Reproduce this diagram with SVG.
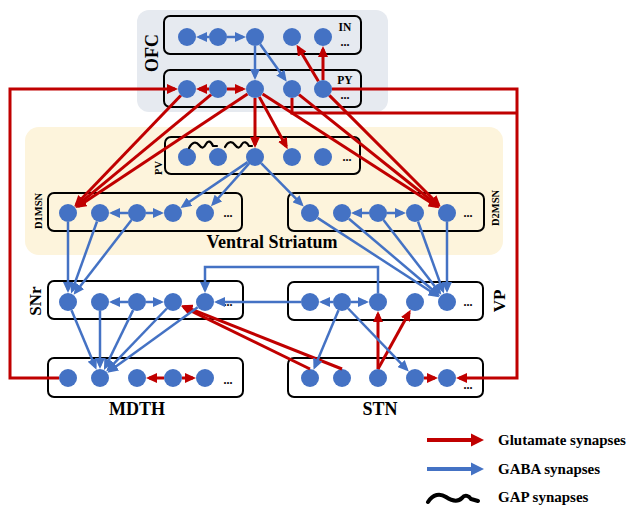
<svg xmlns="http://www.w3.org/2000/svg" width="628" height="505" viewBox="0 0 628 505">
  <style>
    text { font-family: "Liberation Serif", "Times New Roman", serif; font-weight: bold; fill: #000; }
    .box { fill: none; stroke: #000; stroke-width: 2; }
    .n { fill: #4472C4; }
    .glu { stroke: #C00000; stroke-width: 3; fill: none; marker-end: url(#ahR); }
    .glu0 { stroke: #C00000; stroke-width: 3; fill: none; }
    .gaba { stroke: #4472C4; stroke-width: 2.5; fill: none; marker-end: url(#ahB); }
    .gap { stroke: #000; stroke-width: 2.2; fill: none; stroke-linecap: round; stroke-linejoin: round; }
    .lbl { font-size: 11.5px; }
    .dots { font-size: 12px; }
    .vlab { font-size: 10.5px; }
    .big { font-size: 18px; }
    .leg { font-size: 15px; }
  </style>
  <defs>
    <marker id="ahR" markerUnits="userSpaceOnUse" markerWidth="11" markerHeight="10" refX="8" refY="5" orient="auto">
      <path d="M0,0 L11,5 L0,10 z" fill="#C00000"/>
    </marker>
    <marker id="ahB" markerUnits="userSpaceOnUse" markerWidth="11" markerHeight="10" refX="8" refY="5" orient="auto">
      <path d="M0,0 L11,5 L0,10 z" fill="#4472C4"/>
    </marker>
  </defs>

  <!-- region backgrounds -->
  <rect x="137" y="10" width="251" height="102" rx="12" fill="#E6EAF0"/>
  <rect x="25" y="127" width="478" height="128" rx="14" fill="#FDF4DC"/>
  <text class="big" transform="translate(158,53) rotate(-90)" text-anchor="middle">OFC</text>
  <text class="big" x="272" y="248" text-anchor="middle">Ventral Striatum</text>

  <!-- OFC interneurons -->
  <g id="IN">
    <rect class="box" x="164" y="16" width="197" height="38" rx="6"/>
    <circle class="n" cx="187" cy="37" r="9"/>
    <circle class="n" cx="218" cy="37" r="9"/>
    <circle class="n" cx="255" cy="37" r="9"/>
    <circle class="n" cx="292" cy="37" r="9"/>
    <circle class="n" cx="323" cy="37" r="9"/>
    <text class="lbl" x="345" y="31" text-anchor="middle">IN</text>
    <text class="dots" x="345" y="46" text-anchor="middle">...</text>
  </g>

  <!-- OFC pyramidal cells -->
  <g id="PY">
    <rect class="box" x="164" y="70" width="197" height="37" rx="6"/>
    <circle class="n" cx="187" cy="89" r="9"/>
    <circle class="n" cx="218" cy="89" r="9"/>
    <circle class="n" cx="255" cy="89" r="9"/>
    <circle class="n" cx="292" cy="89" r="9"/>
    <circle class="n" cx="323" cy="89" r="9"/>
    <text class="lbl" x="345" y="84" text-anchor="middle">PY</text>
    <text class="dots" x="345" y="99" text-anchor="middle">...</text>
  </g>

  <!-- PV interneurons -->
  <g id="PV">
    <rect class="box" x="165" y="137" width="195" height="37" rx="6"/>
    <circle class="n" cx="187" cy="157" r="9"/>
    <circle class="n" cx="218" cy="157" r="9"/>
    <circle class="n" cx="255" cy="157" r="9"/>
    <circle class="n" cx="292" cy="157" r="9"/>
    <circle class="n" cx="323" cy="157" r="9"/>
    <text class="dots" x="347" y="161" text-anchor="middle">...</text>
    <text class="vlab" transform="translate(162,168) rotate(-90)" text-anchor="middle">PV</text>
    <path class="gap" d="M189,148 C192,142 196,141 199,145 C202,149 204,148 206,144 C208,140 211,141 213,146 L217,146"/>
    <path class="gap" d="M225,147 C228,141 232,141 235,145 C238,149 240,148 242,144 C244,141 247,142 249,146 L252,146"/>
  </g>

  <!-- D1 medium spiny neurons -->
  <g id="D1MSN">
    <rect class="box" x="48" y="193" width="194" height="38" rx="6"/>
    <circle class="n" cx="68" cy="213" r="9"/>
    <circle class="n" cx="100" cy="213" r="9"/>
    <circle class="n" cx="137" cy="213" r="9"/>
    <circle class="n" cx="173" cy="213" r="9"/>
    <circle class="n" cx="205" cy="213" r="9"/>
    <text class="dots" x="228" y="217" text-anchor="middle">...</text>
    <text class="vlab" transform="translate(42,211) rotate(-90)" text-anchor="middle">D1MSN</text>
  </g>

  <!-- D2 medium spiny neurons -->
  <g id="D2MSN">
    <rect class="box" x="288" y="193" width="196" height="38" rx="6"/>
    <circle class="n" cx="310" cy="213" r="9"/>
    <circle class="n" cx="342" cy="213" r="9"/>
    <circle class="n" cx="378" cy="213" r="9"/>
    <circle class="n" cx="415" cy="213" r="9"/>
    <circle class="n" cx="447" cy="213" r="9"/>
    <text class="dots" x="468" y="217" text-anchor="middle">...</text>
    <text class="vlab" transform="translate(499,208) rotate(-90)" text-anchor="middle">D2MSN</text>
  </g>

  <!-- substantia nigra pars reticulata -->
  <g id="SNr">
    <rect class="box" x="48" y="281" width="195" height="38" rx="6"/>
    <circle class="n" cx="68" cy="302" r="9"/>
    <circle class="n" cx="100" cy="302" r="9"/>
    <circle class="n" cx="137" cy="302" r="9"/>
    <circle class="n" cx="173" cy="302" r="9"/>
    <circle class="n" cx="205" cy="302" r="9"/>
    <text class="dots" x="228" y="306" text-anchor="middle">...</text>
    <text class="big" style="font-size:17px" transform="translate(41,301) rotate(-90)" text-anchor="middle">SNr</text>
  </g>

  <!-- ventral pallidum -->
  <g id="VP">
    <rect class="box" x="288" y="282" width="195" height="38" rx="6"/>
    <circle class="n" cx="310" cy="302" r="9"/>
    <circle class="n" cx="342" cy="302" r="9"/>
    <circle class="n" cx="378" cy="302" r="9"/>
    <circle class="n" cx="415" cy="302" r="9"/>
    <circle class="n" cx="447" cy="302" r="9"/>
    <text class="dots" x="468" y="306" text-anchor="middle">...</text>
    <text class="big" style="font-size:17px" transform="translate(505,301) rotate(-90)" text-anchor="middle">VP</text>
  </g>

  <!-- mediodorsal thalamus -->
  <g id="MDTH">
    <rect class="box" x="48" y="358" width="195" height="39" rx="6"/>
    <circle class="n" cx="68" cy="378" r="9"/>
    <circle class="n" cx="100" cy="378" r="9"/>
    <circle class="n" cx="137" cy="378" r="9"/>
    <circle class="n" cx="173" cy="378" r="9"/>
    <circle class="n" cx="205" cy="378" r="9"/>
    <text class="dots" x="228" y="384" text-anchor="middle">...</text>
    <text class="big" x="137" y="415" text-anchor="middle">MDTH</text>
  </g>

  <!-- subthalamic nucleus -->
  <g id="STN">
    <rect class="box" x="288" y="358" width="195" height="39" rx="6"/>
    <circle class="n" cx="310" cy="378" r="9"/>
    <circle class="n" cx="342" cy="378" r="9"/>
    <circle class="n" cx="378" cy="378" r="9"/>
    <circle class="n" cx="415" cy="378" r="9"/>
    <circle class="n" cx="447" cy="378" r="9"/>
    <text class="dots" x="468" y="389" text-anchor="middle">...</text>
    <text class="big" x="380" y="415" text-anchor="middle">STN</text>
  </g>

  <!-- synaptic connections -->
  <g id="connectors">
    <!-- glutamatergic -->
    <line class="glu" x1="209" y1="89" x2="199" y2="89"/>
    <line class="glu" x1="227" y1="89" x2="243" y2="89"/>
    <line class="glu" x1="180.8" y1="95.5" x2="76.3" y2="204.3"/>
    <line class="glu" x1="211.1" y1="94.7" x2="77.3" y2="205.4"/>
    <line class="glu" x1="247.5" y1="94" x2="78" y2="206.4"/>
    <line class="glu" x1="255" y1="98" x2="255" y2="145"/>
    <line class="glu" x1="259.3" y1="96.9" x2="286.3" y2="146.5"/>
    <line class="glu" x1="262.6" y1="93.9" x2="436.9" y2="206.5"/>
    <line class="glu" x1="299" y1="94.6" x2="437.6" y2="205.5"/>
    <line class="glu" x1="329.4" y1="95.4" x2="438.5" y2="204.5"/>
    <line class="glu" x1="323" y1="80" x2="323" y2="49"/>
    <line class="glu" x1="318.4" y1="81.3" x2="298.1" y2="47.3"/>
    <path class="glu" d="M332,89 H517 V378 H459"/>
    <path class="glu0" d="M292,98 V113 H517"/>
    <path class="glu" d="M59,378 H10 V89 H175"/>
    <line class="glu" x1="164" y1="378" x2="149" y2="378"/>
    <line class="glu" x1="182" y1="378" x2="193" y2="378"/>
    <line class="glu" x1="310" y1="369" x2="183.8" y2="307.3"/>
    <line class="glu" x1="342" y1="369" x2="184.2" y2="306.4"/>
    <line class="glu" x1="378" y1="369" x2="378" y2="314"/>
    <line class="glu" x1="378" y1="369" x2="409.2" y2="312.5"/>
    <line class="glu" x1="424" y1="378" x2="435" y2="378"/>

    <!-- GABAergic -->
    <line class="gaba" x1="209" y1="37" x2="199" y2="37"/>
    <line class="gaba" x1="227" y1="37" x2="243" y2="37"/>
    <line class="gaba" x1="255" y1="46" x2="255" y2="77"/>
    <line class="gaba" x1="260.2" y1="44.3" x2="285" y2="79.2"/>
    <line class="gaba" x1="247.6" y1="162.1" x2="182.9" y2="206.2"/>
    <line class="gaba" x1="249" y1="163.7" x2="213" y2="204"/>
    <line class="gaba" x1="261.3" y1="163.4" x2="301.6" y2="204.4"/>
    <line class="gaba" x1="128" y1="213" x2="112" y2="213"/>
    <line class="gaba" x1="146" y1="213" x2="161" y2="213"/>
    <line class="gaba" x1="68" y1="222" x2="68" y2="290"/>
    <line class="gaba" x1="97" y1="221.5" x2="72.1" y2="290.7"/>
    <line class="gaba" x1="131.5" y1="220.1" x2="75.4" y2="292.5"/>
    <line class="gaba" x1="369" y1="213" x2="354" y2="213"/>
    <line class="gaba" x1="387" y1="213" x2="403" y2="213"/>
    <line class="gaba" x1="317.5" y1="217.9" x2="436.9" y2="295.5"/>
    <line class="gaba" x1="348.9" y1="218.8" x2="437.8" y2="294.2"/>
    <line class="gaba" x1="383.5" y1="220.1" x2="439.6" y2="292.5"/>
    <line class="gaba" x1="418" y1="221.5" x2="442.9" y2="290.7"/>
    <line class="gaba" x1="447" y1="222" x2="447" y2="290"/>
    <line class="gaba" x1="128" y1="302" x2="112" y2="302"/>
    <line class="gaba" x1="146" y1="302" x2="161" y2="302"/>
    <line class="gaba" x1="71.5" y1="310.3" x2="95.3" y2="367"/>
    <line class="gaba" x1="100" y1="311" x2="100" y2="366"/>
    <line class="gaba" x1="133.1" y1="310.1" x2="105.3" y2="367.2"/>
    <line class="gaba" x1="166.8" y1="308.5" x2="108.3" y2="369.3"/>
    <line class="gaba" x1="197.7" y1="307.3" x2="109.7" y2="371"/>
    <line class="gaba" x1="333" y1="302" x2="322" y2="302"/>
    <line class="gaba" x1="351" y1="302" x2="366" y2="302"/>
    <line class="gaba" x1="301" y1="302" x2="217" y2="302"/>
    <path class="gaba" d="M378,293 V267 H205 V290"/>
    <line class="gaba" x1="338.5" y1="310.3" x2="314.7" y2="367"/>
    <line class="gaba" x1="348.2" y1="308.5" x2="406.7" y2="369.3"/>
  </g>

  <!-- legend -->
  <g id="legend">
    <line x1="427" y1="440" x2="472" y2="440" stroke="#C00000" stroke-width="4"/>
    <path d="M471,433.5 L484,440 L471,446.5 z" fill="#C00000"/>
    <text class="leg" x="498" y="445">Glutamate  synapses</text>
    <line x1="427" y1="469" x2="472" y2="469" stroke="#4472C4" stroke-width="4"/>
    <path d="M471,462.5 L484,469 L471,475.5 z" fill="#4472C4"/>
    <text class="leg" x="498" y="474">GABA synapses</text>
    <path d="M428,502 C433,494 440,493 446,497 C452,501 458,502 462,498 C465,494 469,496 471,499 L478,501" stroke="#000" stroke-width="4" fill="none" stroke-linecap="round"/>
    <text class="leg" x="498" y="502">GAP synapses</text>
  </g>
</svg>
